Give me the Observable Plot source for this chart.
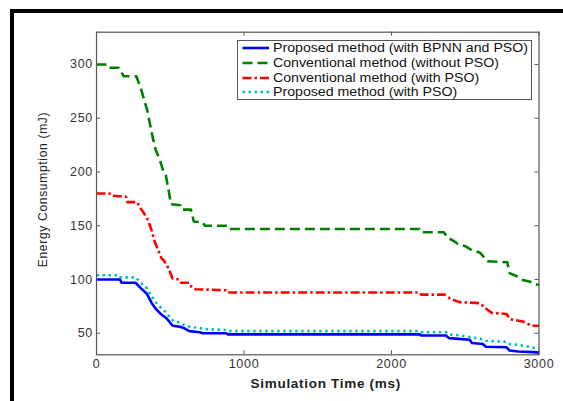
<!DOCTYPE html>
<html>
<head>
<meta charset="utf-8">
<script src="https://cdn.jsdelivr.net/npm/d3@7"></script>
<script src="https://cdn.jsdelivr.net/npm/@observablehq/plot@0.6"></script>
<style>
  html, body { margin: 0; padding: 0; background: #fff; }
  body { width: 563px; height: 401px; overflow: hidden; position: relative; font-family: "Liberation Sans", Arial, sans-serif; }
  #border { position: absolute; left: 10px; top: 9px; width: 640px; height: 388px; border: 4px solid #000; }
  #chart { position: absolute; left: 0; top: 0; }
  #chart text { letter-spacing: 0.7px; }
  #legend { position: absolute; left: 237px; top: 40px; width: 293px; height: 58px; border: 1px solid #555; background: #fff; }
  .row { position: absolute; left: 0; height: 14px; width: 293px; }
  .row svg { position: absolute; left: 4px; top: 0; }
  .row span { position: absolute; left: 35px; top: -1px; font-size: 12px; line-height: 16px; color: #111; white-space: nowrap; transform: scaleX(1.18); transform-origin: left center; }
</style>
</head>
<body>
<div id="border"></div>
<div id="chart"></div>
<div id="legend"></div>
<script>
// ---- data ----
const seriesNames = [
  "Proposed method (with BPNN and PSO)",
  "Conventional method (without PSO)",
  "Conventional method (with PSO)",
  "Proposed method (with PSO)"
];

const xTicks = [0, 1000, 2000, 3000];
const yTicks = [50, 100, 150, 200, 250, 300];
const xLabel = "Simulation Time (ms)";
const yLabel = "Energy Consumption (mJ)";

// Proposed method (with BPNN and PSO) — vertices of the curve
const bpnnTime  = [0, 160, 170, 265, 300, 340, 375, 400, 435, 475, 510, 520, 565, 590, 630, 700, 720, 880, 890, 2190, 2200, 2370, 2390, 2530, 2545, 2620, 2640, 2780, 2800, 2860, 2960, 3000];
const bpnnValue = [100, 100, 97, 97, 92, 87, 78, 73, 68, 64, 58, 57, 56, 55, 52, 51, 50, 50, 49, 49, 48, 48, 45.5, 44, 41, 40, 37.5, 37, 34, 33, 32.5, 32];

// Conventional method (without PSO)
const convTime  = [0, 75, 85, 150, 185, 270, 300, 345, 375, 400, 430, 455, 470, 490, 505, 570, 580, 640, 660, 720, 735, 890, 900, 2190, 2200, 2355, 2380, 2420, 2450, 2500, 2535, 2600, 2650, 2785, 2800, 2850, 2880, 2940, 2965, 3000];
const convValue = [300, 300, 297, 297, 289, 289, 278, 257, 236, 221, 211, 200, 197, 182, 170, 169, 165, 165, 154, 153, 150, 150, 147, 147, 144, 144, 139, 136, 133, 131, 128, 125, 117, 116, 106, 103, 100, 98, 96, 95];

// Conventional method (with PSO)
const convPsoTime  = [0, 90, 100, 200, 210, 275, 290, 320, 350, 375, 395, 410, 440, 460, 490, 515, 560, 575, 630, 645, 670, 880, 890, 2190, 2200, 2360, 2400, 2460, 2600, 2640, 2680, 2780, 2805, 2890, 2950, 3000];
const convPsoValue = [180, 180, 178, 177, 172, 172, 168, 162, 155, 145, 135, 130, 120, 117, 110, 101, 100, 97, 97, 93, 91, 90, 88, 88, 86, 86, 82, 79, 78, 73, 69, 68, 63, 61, 57, 57];

// Proposed method (with PSO)
const propPsoTime  = [0, 150, 160, 265, 300, 340, 375, 400, 435, 475, 510, 525, 565, 600, 640, 700, 720, 880, 890, 2190, 2200, 2370, 2390, 2470, 2500, 2600, 2640, 2780, 2800, 2870, 2950, 3000];
const propPsoValue = [104, 104, 102, 102, 97, 92, 84, 79, 74, 69, 63, 61, 60, 57, 56, 55, 54, 53, 52, 52, 51, 51, 49, 48, 47, 45, 43, 42, 40, 39, 37, 35];

// ---- styles ----
const styles = [
  {color: "#0000ff", dash: null, width: 2.6},
  {color: "#008000", dash: "10,5", width: 2.6},
  {color: "#ff0000", dash: "9,3,2.5,3", width: 2.6},
  {color: "#00bfbf", dash: "2.5,3.5", width: 2.6}
];

const zip = (ts, vs) => ts.map((t, i) => ({t, v: vs[i]}));
const seriesData = [
  zip(bpnnTime, bpnnValue),
  zip(convTime, convValue),
  zip(convPsoTime, convPsoValue),
  zip(propPsoTime, propPsoValue)
];

const W = 563, H = 401;
const mL = 96, mR = 24.5, mT = 31.7, mB = 46.7;
const plotW = W - mL - mR, plotH = H - mT - mB;
const tickLen = 4;
const axisColor = "#555";

const lineMark = (i) => Plot.line(seriesData[i], {
  x: "t", y: "v", curve: "linear",
  stroke: styles[i].color, strokeWidth: styles[i].width,
  strokeDasharray: styles[i].dash ?? undefined,
  strokeLinecap: "butt", strokeLinejoin: "round"
});

const chart = Plot.plot({
  width: W, height: H,
  marginLeft: mL, marginRight: mR, marginTop: mT, marginBottom: mB,
  style: {fontFamily: "'Liberation Sans', Arial, sans-serif", fontSize: "12.5px", color: "#333", background: "transparent", overflow: "visible"},
  x: {domain: [0, 3000], ticks: xTicks},
  y: {domain: [30, 330], ticks: yTicks},
  marks: [
    Plot.axisX(xTicks, {tickSize: 0, tickPadding: 4, label: null, fill: "#333", tickFormat: d => String(d)}),
    Plot.axisY(yTicks, {tickSize: 0, tickPadding: 3.5, label: null, fill: "#333", tickFormat: d => String(d)}),
    Plot.tickX(xTicks, {x: d => d, stroke: axisColor, insetTop: plotH - tickLen}),
    Plot.tickX(xTicks, {x: d => d, stroke: axisColor, insetBottom: plotH - tickLen}),
    Plot.tickY(yTicks, {y: d => d, stroke: axisColor, insetRight: plotW - tickLen}),
    Plot.tickY(yTicks, {y: d => d, stroke: axisColor, insetLeft: plotW - tickLen}),
    lineMark(1),
    lineMark(2),
    lineMark(0),
    lineMark(3),
    Plot.frame({stroke: axisColor, strokeWidth: 1.2}),
    Plot.text([xLabel], {frameAnchor: "bottom", dx: 8, dy: 29, fontWeight: "bold", fontSize: 13.5, fill: "#222", lineAnchor: "middle", textAnchor: "middle"}),
    Plot.text([yLabel], {frameAnchor: "left", dx: -53, dy: -4, rotate: -90, fontSize: 12, fill: "#222", lineAnchor: "middle", textAnchor: "middle"})
  ]
});
document.getElementById("chart").appendChild(chart);

// ---- legend ----
const legend = document.getElementById("legend");
const ns = "http://www.w3.org/2000/svg";
seriesNames.forEach((name, i) => {
  const row = document.createElement("div");
  row.className = "row";
  row.style.top = (0.3 + i * 14.6) + "px";
  const svg = document.createElementNS(ns, "svg");
  svg.setAttribute("width", 28);
  svg.setAttribute("height", 14);
  const ln = document.createElementNS(ns, "line");
  ln.setAttribute("x1", 0.5); ln.setAttribute("x2", 27);
  ln.setAttribute("y1", 7); ln.setAttribute("y2", 7);
  ln.setAttribute("stroke", styles[i].color);
  ln.setAttribute("stroke-width", styles[i].width);
  if (styles[i].dash) ln.setAttribute("stroke-dasharray", styles[i].dash);
  svg.appendChild(ln);
  const span = document.createElement("span");
  span.textContent = name;
  row.appendChild(svg);
  row.appendChild(span);
  legend.appendChild(row);
});
</script>
</body>
</html>
